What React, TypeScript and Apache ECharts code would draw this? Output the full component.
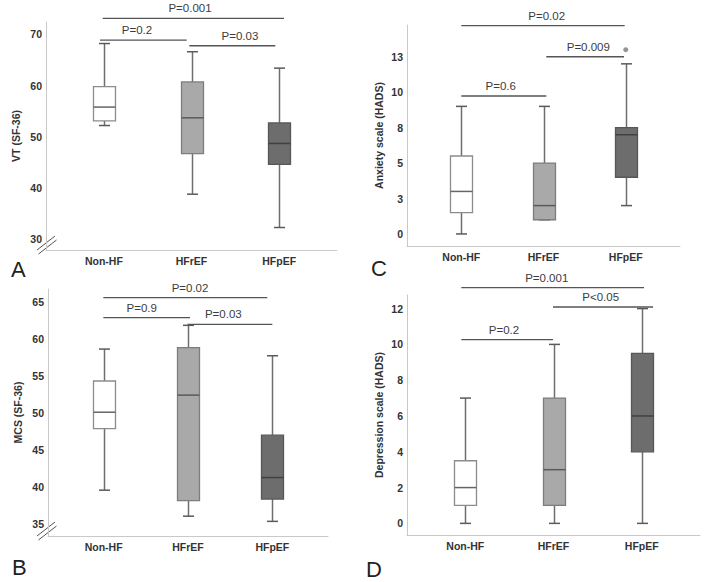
import React, { useEffect, useRef } from "react";
import * as echarts from "echarts";

const categories = ["Non-HF", "HFrEF", "HFpEF"];

// Box statistics per group: [min, Q1, median, Q3, max]
const vtStats = [
  [52.2, 53.1, 55.8, 59.8, 68.2],
  [38.8, 46.7, 53.7, 60.7, 66.6],
  [32.3, 44.6, 48.7, 52.7, 63.4],
];
const anxietyStats = [
  [0, 1.5, 3, 5.5, 9],
  [1, 1, 2, 5, 9],
  [2, 4, 7, 7.5, 12],
];
const anxietyOutliers = [[3, 13]];
const mcsStats = [
  [39.6, 47.9, 50.1, 54.3, 58.6],
  [36.1, 38.2, 52.4, 58.8, 61.8],
  [35.4, 38.4, 41.3, 47.0, 57.7],
];
const depressionStats = [
  [0, 1, 2, 3.5, 7],
  [0, 1, 3, 7, 10],
  [0, 4, 6, 9.5, 12],
];

// Tick values and labels
const vtTicks = [30, 40, 50, 60, 70];
const anxietyTicks = [0, 2.5, 5, 7.5, 10, 12.5];
const anxietyTickLabels = ["0", "3", "5", "8", "10", "13"];
const mcsTicks = [35, 40, 45, 50, 55, 60, 65];
const depressionTicks = [0, 2, 4, 6, 8, 10, 12];

// Significance brackets: [x from, x to, y level, label x]
const vtBrackets = [
  [0.987, 3.055, 73.1, 1.983],
  [0.956, 1.945, 68.88, 1.378],
  [1.975, 2.956, 67.77, 2.553],
];
const vtPValues = ["P=0.001", "P=0.2", "P=0.03"];
const anxietyBrackets = [
  [1.0, 2.987, 14.69, 2.039],
  [2.034, 2.979, 12.5, 2.545],
  [1.0, 2.034, 9.73, 1.48],
];
const anxietyPValues = ["P=0.02", "P=0.009", "P=0.6"];
const mcsBrackets = [
  [0.996, 2.94, 65.52, 2.024],
  [0.996, 2.024, 62.83, 1.451],
  [1.996, 3.0, 61.94, 2.419],
];
const mcsPValues = ["P=0.02", "P=0.9", "P=0.03"];
const depressionBrackets = [
  [0.955, 3.026, 13.17, 1.923],
  [1.994, 3.128, 12.09, 2.535],
  [0.955, 1.994, 10.27, 1.439],
];
const depressionPValues = ["P=0.001", "P<0.05", "P=0.2"];

const FONT = '"Liberation Sans", Arial, Helvetica, sans-serif';
const boxFill = ["#ffffff", "#a9a9a9", "#6d6d6d"];
const boxStroke = ["#8c8c8c", "#7d7d7d", "#575757"];
const medianColor = ["#666666", "#5a5a5a", "#404040"];
const whiskerColor = "#6e6e6e";

type Panel = {
  grid: { left: number; top: number; width: number; height: number };
  yMin: number;
  yMax: number;
  ticks: number[];
  tickLabels?: string[];
  title: string;
  nameGap: number;
  stats: number[][];
  brackets: number[][];
  pValues: string[];
  outliers?: number[][];
};

const panels: Panel[] = [
  {
    grid: { left: 46, top: 22, width: 291, height: 228 },
    yMin: 27.91, yMax: 72.4, ticks: vtTicks, title: "VT (SF-36)", nameGap: 25,
    stats: vtStats, brackets: vtBrackets, pValues: vtPValues,
  },
  {
    grid: { left: 407, top: 25, width: 273, height: 221 },
    yMin: -0.85, yMax: 14.74, ticks: anxietyTicks, tickLabels: anxietyTickLabels,
    title: "Anxiety scale (HADS)", nameGap: 23,
    stats: anxietyStats, brackets: anxietyBrackets, pValues: anxietyPValues, outliers: anxietyOutliers,
  },
  {
    grid: { left: 48, top: 289, width: 280, height: 247 },
    yMin: 33.43, yMax: 66.69, ticks: mcsTicks, title: "MCS (SF-36)", nameGap: 25,
    stats: mcsStats, brackets: mcsBrackets, pValues: mcsPValues,
  },
  {
    grid: { left: 407, top: 295, width: 293, height: 240 },
    yMin: -0.65, yMax: 12.76, ticks: depressionTicks, title: "Depression scale (HADS)", nameGap: 23,
    stats: depressionStats, brackets: depressionBrackets, pValues: depressionPValues,
  },
];

const letters = [
  { text: "A", x: 11, y: 269 },
  { text: "C", x: 371, y: 268 },
  { text: "B", x: 12, y: 567 },
  { text: "D", x: 366, y: 569 },
];

function boxRender(params: any, api: any) {
  const i = params.dataIndex;
  const x = api.value(0);
  const mn = api.value(1), q1 = api.value(2), md = api.value(3), q3 = api.value(4), mx = api.value(5);
  const c = (v: number) => api.coord([x, v]);
  const pMax = c(mx), pQ3 = c(q3), pMd = c(md), pQ1 = c(q1), pMin = c(mn);
  const cx = Math.round(pMax[0]) + 0.5;
  const hw = 11;
  const cw = 5.5;
  const ws = { stroke: whiskerColor, lineWidth: 1.5 };
  return {
    type: "group",
    children: [
      { type: "line", shape: { x1: cx, y1: pMax[1], x2: cx, y2: pQ3[1] }, style: ws },
      { type: "line", shape: { x1: cx, y1: pQ1[1], x2: cx, y2: pMin[1] }, style: ws },
      { type: "line", shape: { x1: cx - cw, y1: pMax[1], x2: cx + cw, y2: pMax[1] }, style: { stroke: "#5a5a5a", lineWidth: 1.5 } },
      { type: "line", shape: { x1: cx - cw, y1: pMin[1], x2: cx + cw, y2: pMin[1] }, style: { stroke: "#5a5a5a", lineWidth: 1.5 } },
      {
        type: "rect",
        shape: { x: cx - hw, y: pQ3[1], width: hw * 2, height: pQ1[1] - pQ3[1] },
        style: { fill: boxFill[i], stroke: boxStroke[i], lineWidth: 1.3 },
      },
      { type: "line", shape: { x1: cx - hw, y1: pMd[1], x2: cx + hw, y2: pMd[1] }, style: { stroke: medianColor[i], lineWidth: 1.5 } },
    ],
  };
}

function makeBracketRender(labels: string[]) {
  return function (params: any, api: any) {
    const x1 = api.value(0), x2 = api.value(1), y = api.value(2), lx = api.value(3);
    const p1 = api.coord([x1, y]);
    const p2 = api.coord([x2, y]);
    const pl = api.coord([lx, y]);
    return {
      type: "group",
      children: [
        { type: "line", shape: { x1: p1[0], y1: p1[1], x2: p2[0], y2: p2[1] }, style: { stroke: "#555555", lineWidth: 1.3 } },
        {
          type: "text",
          x: pl[0],
          y: pl[1] - 10,
          style: {
            text: labels[params.dataIndex],
            fill: "#3c3c3c",
            font: `11.5px ${FONT}`,
            align: "center",
            verticalAlign: "middle",
          },
        },
      ],
    };
  };
}

export default function App() {
  const ref = useRef<HTMLDivElement>(null);

  useEffect(() => {
    document.body.style.margin = "0";
    if (!ref.current) return;
    const chart = echarts.init(ref.current, undefined, { renderer: "svg" });

    const grid = panels.map((p) => ({ ...p.grid, containLabel: false }));
    const xAxis = panels.map((_, k) => ({
      type: "value",
      gridIndex: k,
      min: 0.34,
      max: 3.66,
      axisLine: { show: true, onZero: false, lineStyle: { color: "#c9c9c9", width: 1 } },
      axisTick: { show: false },
      splitLine: { show: false },
      axisLabel: {
        customValues: [1, 2, 3],
        formatter: (v: number) => categories[Math.round(v) - 1] ?? "",
        fontFamily: FONT,
        fontWeight: "bold",
        fontSize: 10.5,
        color: "#333333",
        margin: 5,
      },
    }));
    const yAxis = panels.map((p, k) => ({
      type: "value",
      gridIndex: k,
      min: p.yMin,
      max: p.yMax,
      name: p.title,
      nameLocation: "middle",
      nameGap: p.nameGap,
      nameRotate: 90,
      nameTextStyle: { fontFamily: FONT, fontWeight: "bold", fontSize: 10.5, color: "#333333" },
      axisLine: { show: true, onZero: false, lineStyle: { color: "#c9c9c9", width: 1 } },
      axisTick: { show: false },
      splitLine: { show: false },
      axisLabel: {
        customValues: p.ticks,
        formatter: (v: number) => {
          if (p.tickLabels) {
            const idx = p.ticks.findIndex((t) => Math.abs(t - v) < 1e-6);
            return idx >= 0 ? p.tickLabels[idx] : "";
          }
          return String(v);
        },
        fontFamily: FONT,
        fontWeight: "bold",
        fontSize: 10.5,
        color: "#333333",
        margin: 4,
      },
    }));

    const series: any[] = [];
    panels.forEach((p, k) => {
      series.push({
        type: "custom",
        xAxisIndex: k,
        yAxisIndex: k,
        clip: false,
        renderItem: boxRender,
        encode: { x: 0, y: [1, 2, 3, 4, 5] },
        data: p.stats.map((s, i) => [i + 1, ...s]),
        z: 3,
      });
      series.push({
        type: "custom",
        xAxisIndex: k,
        yAxisIndex: k,
        clip: false,
        renderItem: makeBracketRender(p.pValues),
        encode: { x: [0, 1], y: 2 },
        data: p.brackets,
        z: 4,
      });
      if (p.outliers) {
        series.push({
          type: "scatter",
          xAxisIndex: k,
          yAxisIndex: k,
          symbol: "circle",
          symbolSize: 5,
          itemStyle: { color: "#7a7a7a" },
          data: p.outliers,
          z: 5,
        });
      }
    });

    const breakLines = (yOff: number) => [
      { type: "line", shape: { x1: 37, y1: 250 + yOff, x2: 55, y2: 236 + yOff }, style: { stroke: "#555", lineWidth: 1 } },
      { type: "line", shape: { x1: 38.5, y1: 254 + yOff, x2: 56.5, y2: 240 + yOff }, style: { stroke: "#555", lineWidth: 1 } },
    ];

    const graphic: any[] = [
      ...breakLines(0),
      ...breakLines(286),
      ...letters.map((l) => ({
        type: "text",
        x: l.x,
        y: l.y,
        style: { text: l.text, fill: "#222222", font: `22px ${FONT}`, align: "left", verticalAlign: "middle" },
      })),
    ];

    chart.setOption({
      animation: false,
      backgroundColor: "#ffffff",
      grid,
      xAxis,
      yAxis,
      series,
      graphic,
    });

    return () => chart.dispose();
  }, []);

  return <div ref={ref} style={{ width: 709, height: 582 }} />;
}
